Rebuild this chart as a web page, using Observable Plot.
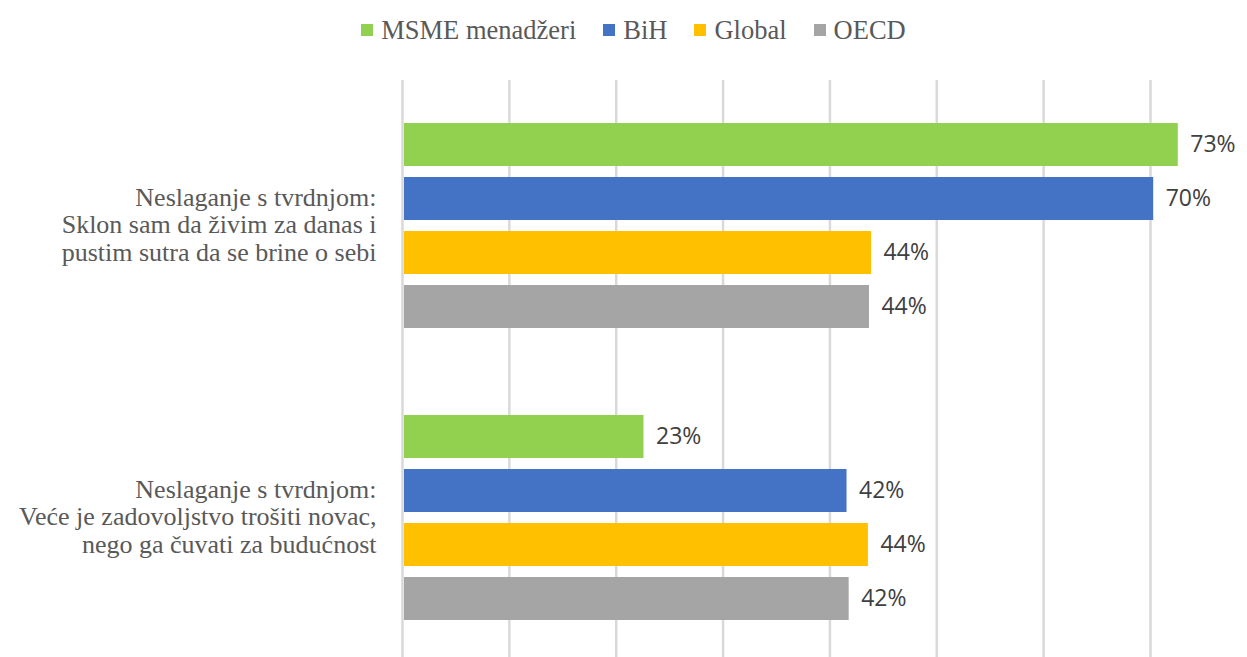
<!DOCTYPE html>
<html>
<head>
<meta charset="utf-8">
<script src="https://cdn.jsdelivr.net/npm/d3@7"></script>
<script src="https://cdn.jsdelivr.net/npm/@observablehq/plot@0.6"></script>
<style>
  html, body { margin: 0; padding: 0; background: #fff; overflow: hidden; }
  #legend { height: 60px; display: flex; justify-content: center; align-items: center; padding-left: 20px; box-sizing: border-box;
    font-family: "Liberation Serif", serif; font-size: 26.5px; color: #595959; }
  .item { display: flex; align-items: center; margin: 0 13.5px; }
  .sw { width: 12px; height: 12px; margin-right: 8px; }
  #chart svg { display: block; }
</style>
</head>
<body>
<div id="legend"></div>
<div id="chart"></div>
<script>
const groups = [
  "Neslaganje s tvrdnjom:\nSklon sam da živim za danas i\npustim sutra da se brine o sebi",
  "Neslaganje s tvrdnjom:\nVeće je zadovoljstvo trošiti novac,\nnego ga čuvati za budućnost"
];
const series = ["MSME menadžeri", "BiH", "Global", "OECD"];
const colors = ["#92d050", "#4472c4", "#ffc000", "#a5a5a5"];
const group1Values = [72.6, 70.3, 43.9, 43.7];
const group2Values = [22.6, 41.6, 43.6, 41.8];
const xTicks = [0, 10, 20, 30, 40, 50, 60, 70];

const data = [];
series.forEach((s, i) => {
  data.push({group: groups[0], series: s, value: group1Values[i]});
  data.push({group: groups[1], series: s, value: group2Values[i]});
});

// legend
const legend = document.getElementById("legend");
series.forEach((s, i) => {
  const it = document.createElement("div");
  it.className = "item";
  const sw = document.createElement("div");
  sw.className = "sw";
  sw.style.background = colors[i];
  const t = document.createElement("span");
  t.textContent = s;
  it.appendChild(sw); it.appendChild(t);
  legend.appendChild(it);
});

const chart = Plot.plot({
  width: 1247,
  height: 604,
  marginTop: 20,
  marginBottom: 0,
  marginLeft: 402,
  marginRight: 97,
  style: {fontFamily: "Liberation Serif, serif", color: "#595959", background: "#fff"},
  x: {domain: [0, 70], axis: null},
  y: {domain: series, paddingInner: 0.2, paddingOuter: 0.785, axis: null},
  fy: {domain: groups, padding: 0},
  color: {domain: series, range: colors},
  marks: [
    Plot.gridX(xTicks, {stroke: "#d9d9d9", strokeWidth: 2.5, strokeOpacity: 1}),
    Plot.barX(data, {x: "value", y: "series", fy: "group", fill: "series", insetLeft: 2}),
    Plot.text(data, {x: "value", y: "series", fy: "group", text: d => Math.round(d.value) + "%",
      textAnchor: "start", dx: 12, fill: "#404040", fontSize: 23, fontFamily: "Open Sans, sans-serif"}),
    Plot.axisFy({anchor: "left", label: null, tickSize: 0, tickPadding: 26, fontSize: 26, lineHeight: 1.05, dy: -2,
      fill: "#595959", fontFamily: "Liberation Serif, serif"})
  ]
});
document.getElementById("chart").appendChild(chart);
</script>
</body>
</html>
